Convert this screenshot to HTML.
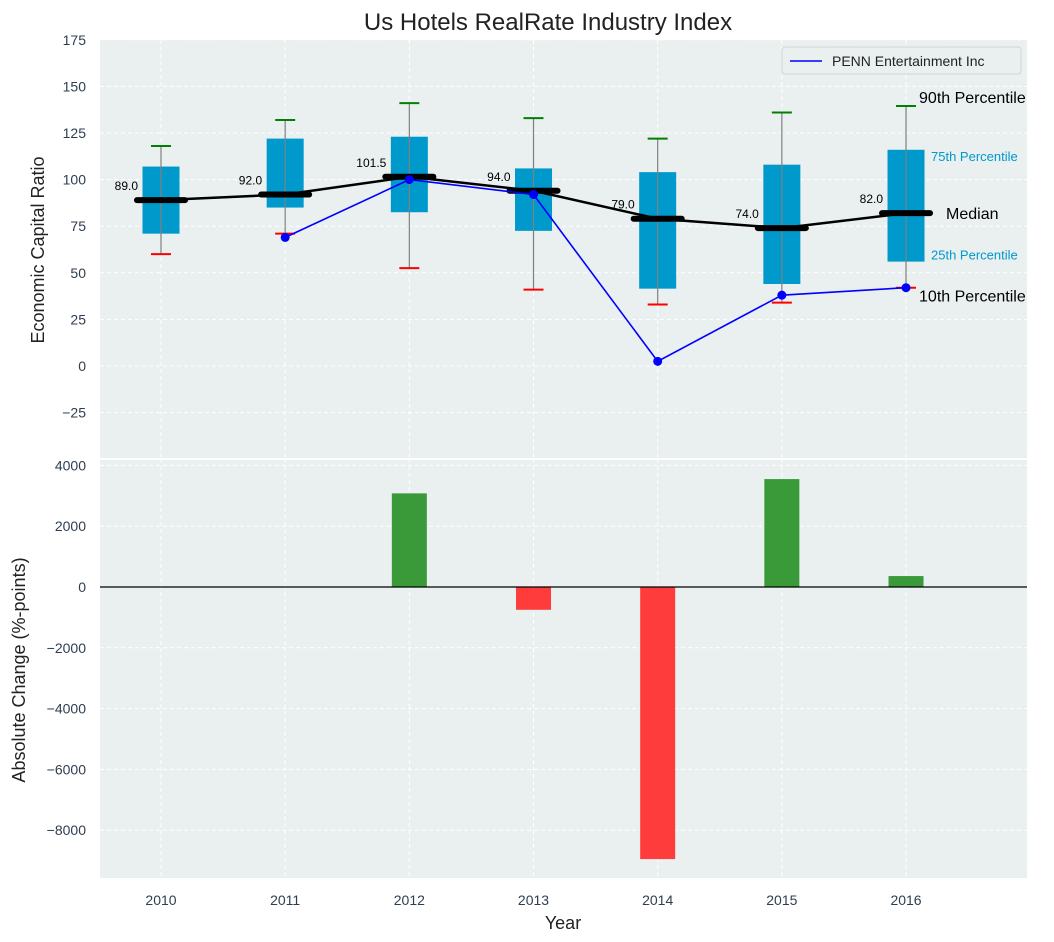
<!DOCTYPE html>
<html><head><meta charset="utf-8"><style>
body{margin:0;background:#fff;}
svg{display:block;font-family:"Liberation Sans","DejaVu Sans",sans-serif;}
</style></head><body>
<svg id="c" width="1054" height="942" xmlns="http://www.w3.org/2000/svg"></svg>
<script>
const years=[2010,2011,2012,2013,2014,2015,2016];
const whisLo=[60,71,52.5,41,33,34,42];
const q1=[71,85,82.5,72.5,41.5,44,56];
const med=[89,92,101.5,94,79,74,82];
const q3=[107,122,123,106,104,108,116];
const whisHi=[118,132,141,133,122,136,139.5];
const pennYears=[2011,2012,2013,2014,2015,2016];
const pennVals=[69,100,92,2.5,38,42];
const chgYears=[2012,2013,2014,2015,2016];
const chgVals=[3080,-750,-8950,3550,360];
const topTicks=[-25,0,25,50,75,100,125,150,175];
const botTicks=[-8000,-6000,-4000,-2000,0,2000,4000];

const svg=document.getElementById('c');
const NS='http://www.w3.org/2000/svg';
function mk(t,a,p){const e=document.createElementNS(NS,t);for(const k in a)e.setAttribute(k,a[k]);(p||svg).appendChild(e);return e;}
const L=100,R=1027,T1=40,B1=459,T2=459,B2=878;
const xs=y=>161+(y-2010)*124.17;
const y1=v=>366-v*1.864;
const y2=v=>587-v*0.0304;

const bg1=mk('rect',{x:L,y:T1,width:R-L,height:B1-T1,fill:'#eaeff0'});


const bg2=mk('rect',{x:L,y:T2+1,width:R-L,height:B2-T2-1,fill:'#eaeff0'});


mk('line',{x1:L,x2:R,y1:459,y2:459,stroke:'#fff','stroke-width':2});

years.forEach(y=>{
 mk('line',{x1:xs(y),x2:xs(y),y1:T1,y2:B1,stroke:'#fff','stroke-dasharray':'4,3'});
 mk('line',{x1:xs(y),x2:xs(y),y1:T2,y2:B2,stroke:'#fff','stroke-dasharray':'4,3'});
 const t=mk('text',{x:xs(y),y:905,'text-anchor':'middle','font-size':14,fill:'#2e3e50'});t.textContent=y;
 
 
});
topTicks.forEach(v=>{
 mk('line',{x1:L,x2:R,y1:y1(v),y2:y1(v),stroke:'#fff','stroke-dasharray':'4,3'});
 const t=mk('text',{x:86,y:y1(v)+5,'text-anchor':'end','font-size':14,fill:'#2e3e50'});t.textContent=v<0?'\u2212'+(-v):v;
 
 
});
botTicks.forEach(v=>{
 mk('line',{x1:L,x2:R,y1:y2(v),y2:y2(v),stroke:'#fff','stroke-dasharray':'4,3'});
 const t=mk('text',{x:86,y:y2(v)+5,'text-anchor':'end','font-size':14,fill:'#2e3e50'});t.textContent=v<0?'\u2212'+(-v):v;
 
 
});

years.forEach((y,i)=>{
 const x=xs(y);
 const b=mk('rect',{x:x-18.5,y:y1(q3[i]),width:37,height:y1(q1[i])-y1(q3[i]),fill:'#0099cc'});
 
 
 mk('line',{x1:x,x2:x,y1:y1(whisHi[i]),y2:y1(whisLo[i]),stroke:'#808080','stroke-width':1.2});
 mk('line',{x1:x-10,x2:x+10,y1:y1(whisHi[i]),y2:y1(whisHi[i]),stroke:'green','stroke-width':2});
 mk('line',{x1:x-10,x2:x+10,y1:y1(whisLo[i]),y2:y1(whisLo[i]),stroke:'red','stroke-width':2});
});
const mp=mk('polyline',{points:years.map((y,i)=>xs(y)+','+y1(med[i])).join(' '),fill:'none',stroke:'#000','stroke-width':2.5});


years.forEach((y,i)=>{
 mk('line',{x1:xs(y)-24,x2:xs(y)+24,y1:y1(med[i]),y2:y1(med[i]),stroke:'#000','stroke-width':6,'stroke-linecap':'round'});
 const t=mk('text',{x:xs(y)-23,y:y1(med[i])-10,'text-anchor':'end','font-size':12,fill:'#000'});t.textContent=med[i].toFixed(1);
 
 
});
const pl=mk('polyline',{points:pennYears.map((y,i)=>xs(y)+','+y1(pennVals[i])).join(' '),fill:'none',stroke:'blue','stroke-width':1.6});


pennYears.forEach((y,i)=>{
 const c=mk('circle',{cx:xs(y),cy:y1(pennVals[i]),r:4.5,fill:'blue'});
 
 
});
const last=years.length-1,lx=xs(years[last]);
[['90th Percentile',lx+13,y1(whisHi[last])-3,16,'#000'],['75th Percentile',lx+25,y1(q3[last])+11,13,'#0099cc'],
 ['Median',lx+40,y1(med[last])+6,16,'#000'],['25th Percentile',lx+25,y1(q1[last])-2,13,'#0099cc'],
 ['10th Percentile',lx+13,y1(whisLo[last])+14,16,'#000']].forEach(a=>{
 const t=mk('text',{x:a[1],y:a[2],'font-size':a[3],fill:a[4]});t.textContent=a[0];
 
 
});
chgYears.forEach((y,i)=>{
 const v=chgVals[i];
 const r=mk('rect',{x:xs(y)-17.5,y:Math.min(y2(v),y2(0)),width:35,height:Math.abs(y2(v)-y2(0)),fill:v>=0?'#3a9a3a':'#ff3c3c'});
 
 
});
mk('line',{x1:L,x2:R,y1:y2(0),y2:y2(0),stroke:'#000','stroke-width':1.2});

const lg=mk('g',{});


mk('rect',{x:782,y:47,width:239,height:27,rx:3,fill:'#eaeff0',stroke:'#d0d4d6'},lg);
mk('line',{x1:790,x2:822,y1:61,y2:61,stroke:'blue','stroke-width':1.6},lg);
const lt=mk('text',{x:832,y:66,'font-size':14,fill:'#222'},lg);lt.textContent='PENN Entertainment Inc';

const tt=mk('text',{x:548,y:30,'text-anchor':'middle','font-size':24,fill:'#222'});tt.textContent='Us Hotels RealRate Industry Index';


const ya=mk('text',{x:0,y:0,'text-anchor':'middle','font-size':18,fill:'#222',transform:'translate(44,250) rotate(-90)'});ya.textContent='Economic Capital Ratio';


const yb=mk('text',{x:0,y:0,'text-anchor':'middle','font-size':18,fill:'#222',transform:'translate(25,670) rotate(-90)'});yb.textContent='Absolute Change (%-points)';


const xa=mk('text',{x:563,y:929,'text-anchor':'middle','font-size':18,fill:'#222'});xa.textContent='Year';


</script>
</body></html>
